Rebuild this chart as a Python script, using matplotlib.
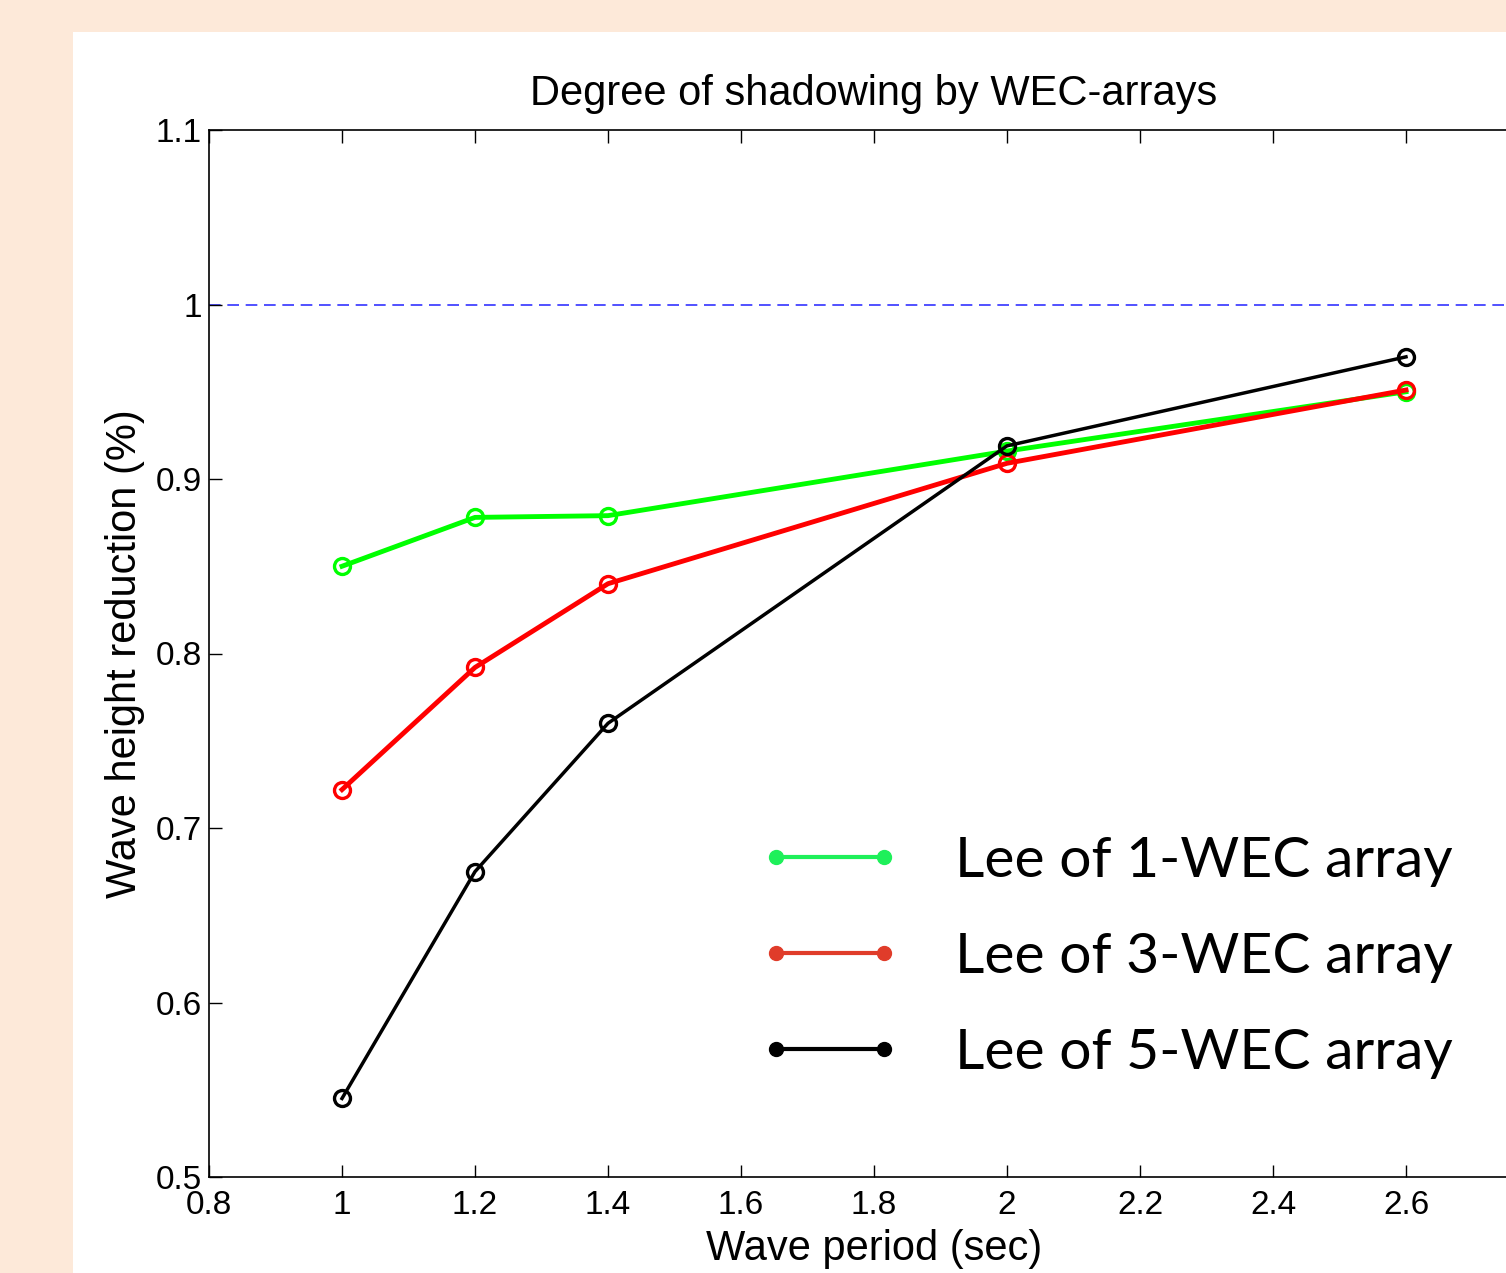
import matplotlib
matplotlib.use("Agg")
import matplotlib.pyplot as plt
from matplotlib.lines import Line2D
from matplotlib.patches import Rectangle

periods = [1.0, 1.2, 1.4, 2.0, 2.6]
wec1 = [0.850, 0.878, 0.879, 0.916, 0.950]
wec3 = [0.722, 0.792, 0.840, 0.909, 0.951]
wec5 = [0.545, 0.675, 0.760, 0.919, 0.970]
labels = ["Lee of 1-WEC array", "Lee of 3-WEC array", "Lee of 5-WEC array"]
xticks = [0.8, 1.0, 1.2, 1.4, 1.6, 1.8, 2.0, 2.2, 2.4, 2.6]
xticklabels = ["0.8", "1", "1.2", "1.4", "1.6", "1.8", "2", "2.2", "2.4", "2.6"]
yticks = [0.5, 0.6, 0.7, 0.8, 0.9, 1.0, 1.1]
yticklabels = ["0.5", "0.6", "0.7", "0.8", "0.9", "1", "1.1"]

W, H = 1506, 1273
fig = plt.figure(figsize=(W / 100, H / 100), dpi=100)
fig.patch.set_facecolor("#FDE9D9")
fig.patches.append(Rectangle((73 / W, 0), 1, 1 - 32 / H, transform=fig.transFigure,
                             facecolor="white", edgecolor="none", zorder=-5))

ax = fig.add_axes([209 / W, (H - 1177) / H, (1539 - 209) / W, 1047 / H])
ax.set_zorder(1)
ax.set_facecolor("white")
ax.set_xlim(0.8, 2.8)
ax.set_ylim(0.5, 1.1)

ax.axhline(1.0, color="#3333FF", linestyle=(0, (7, 4)), linewidth=1.2, zorder=1)

ax.plot(periods, wec1, color="#00FF00", linewidth=3.5, marker="o", markersize=11.5,
        markerfacecolor="none", markeredgewidth=2.4, zorder=3)
ax.plot(periods, wec3, color="#FF0000", linewidth=3.5, marker="o", markersize=11.5,
        markerfacecolor="none", markeredgewidth=2.4, zorder=4)
ax.plot(periods, wec5, color="#000000", linewidth=2.5, marker="o", markersize=11.5,
        markerfacecolor="none", markeredgewidth=2.4, zorder=5)

tickfont = dict(family="Liberation Sans", size=24)
ax.set_xticks(xticks)
ax.set_xticklabels(xticklabels, **tickfont)
ax.set_yticks(yticks)
ax.set_yticklabels(yticklabels, **tickfont)
ax.tick_params(direction="in", length=9, width=1, top=True, right=True, pad=5)
ax.tick_params(axis="x", pad=9)
for s in ax.spines.values():
    s.set_linewidth(1.2)

ax.set_title("Degree of shadowing by WEC-arrays", family="Liberation Sans", size=30, pad=18)
ax.set_xlabel("Wave period (sec)", family="Liberation Sans", size=30, labelpad=6)
ax.set_ylabel("Wave height reduction (%)", family="Liberation Sans", size=30, labelpad=8)

handles = [
    Line2D([], [], color="#1EF05A", linewidth=3, marker="o", markersize=10),
    Line2D([], [], color="#E03C2A", linewidth=3, marker="o", markersize=10),
    Line2D([], [], color="#000000", linewidth=3, marker="o", markersize=10),
]
leg = ax.legend(handles, labels, loc="upper left", bbox_to_anchor=(759 / W, 1 - 836 / H),
                bbox_transform=fig.transFigure, frameon=False, numpoints=2,
                borderpad=0, borderaxespad=0,
                handlelength=2.5, handletextpad=0.95, labelspacing=0.79,
                prop=dict(family="Lato", size=41))

fig.savefig("out.png", dpi=100, facecolor=fig.get_facecolor())
